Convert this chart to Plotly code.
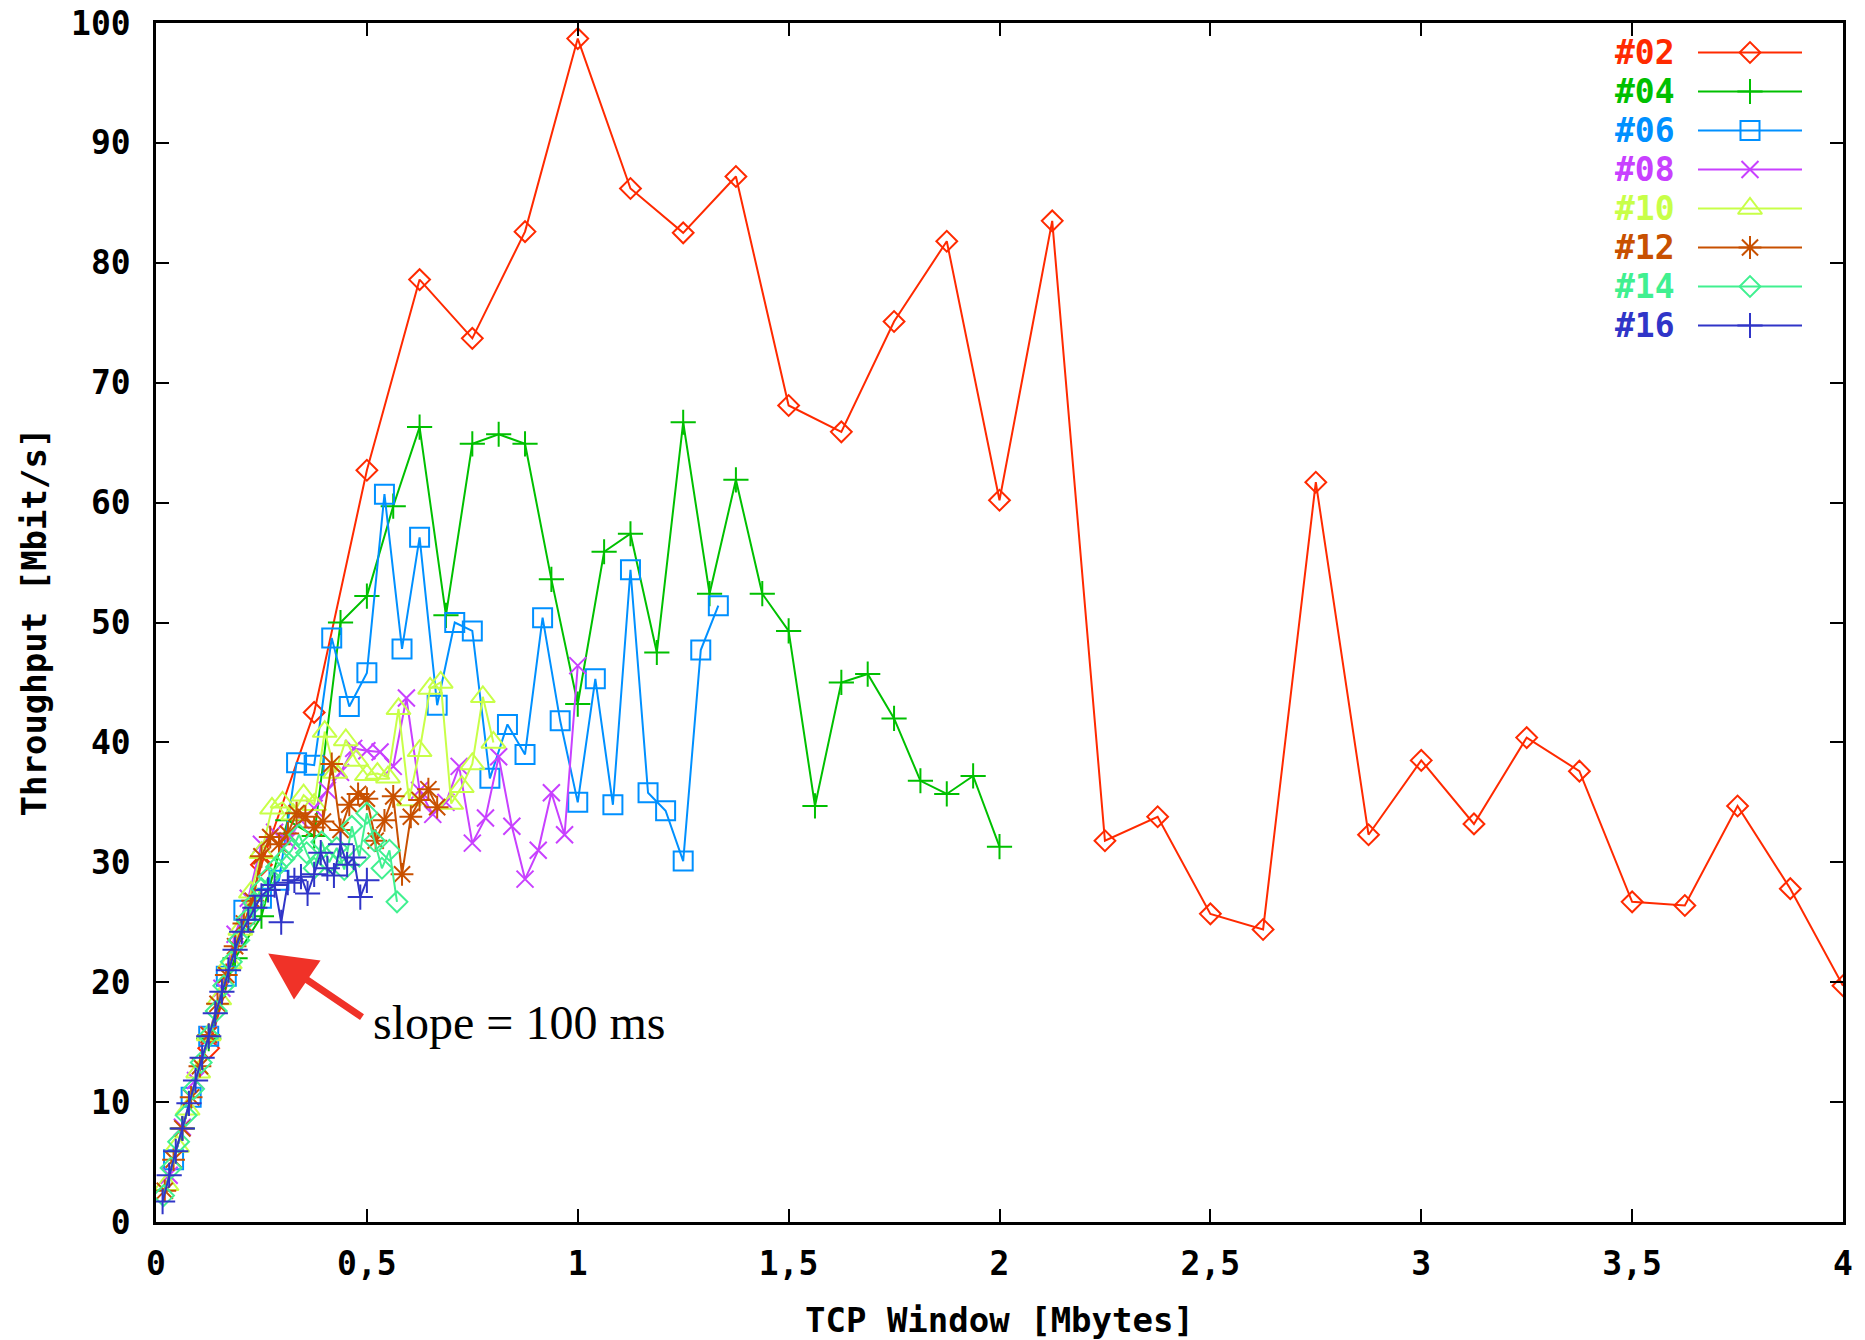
import plotly.graph_objects as go

# ---------------- data ----------------
# total TCP window summed over all parallel streams [MB]; the x value of a point is total / streams
TOTAL_WINDOW_MB = [0.25, 0.5, 0.75, 1.0, 1.25, 1.5, 1.75, 2.0, 2.25, 2.5, 2.75, 3.0,
                   3.25, 3.5, 3.75, 4.0, 4.25, 4.5, 4.75, 5.0, 5.25, 5.5, 5.75, 6.0,
                   6.25, 6.5, 6.75, 7.0, 7.25, 7.5, 7.75, 8.0]

SERIES_NAMES = ["#02", "#04", "#06", "#08", "#10", "#12", "#14", "#16"]
STREAMS = [2, 4, 6, 8, 10, 12, 14, 16]

THR_02 = [14.5, 29.8, 42.5, 62.7, 78.6, 73.7, 82.6, 98.7, 86.2, 82.5, 87.2, 68.1,
          65.9, 75.1, 81.8, 60.2, 83.5, 31.8, 33.8, 25.7, 24.4, 61.7, 32.3, 38.5,
          33.2, 40.4, 37.6, 26.7, 26.4, 34.7, 27.8, 19.7]
THR_04 = [7.8, 15.3, 22.0, 25.5, 33.5, 32.2, 50.0, 52.2, 59.7, 66.3, 50.6, 64.9,
          65.7, 64.9, 53.6, 43.2, 55.9, 57.4, 47.5, 66.7, 52.4, 61.9, 52.4, 49.3,
          34.7, 45.0, 45.7, 42.0, 36.8, 35.7, 37.2, 31.3]
THR_06 = [5.2, 10.4, 15.5, 20.5, 26.0, 27.0, 28.5, 38.3, 38.1, 48.7, 43.0, 45.8,
          60.7, 47.8, 57.1, 43.1, 50.0, 49.3, 37.0, 41.5, 39.0, 50.4, 41.8, 35.0,
          45.3, 34.8, 54.4, 35.8, 34.3, 30.1, 47.7, 51.4]
THR_08 = [3.9, 7.9, 11.8, 15.6, 19.5, 24.0, 27.0, 31.5, 32.5, 31.8, 33.5, 34.5,
          36.0, 37.5, 39.5, 39.3, 39.2, 38.0, 43.7, 36.0, 34.0, 35.0, 38.0, 31.6,
          33.7, 38.8, 33.0, 28.6, 31.0, 35.8, 32.3, 46.4]
THR_10 = [3.1, 6.3, 9.4, 12.5, 15.6, 18.6, 21.6, 24.4, 27.5, 30.8, 34.5, 35.0,
          34.0, 35.6, 34.8, 40.9, 37.5, 40.2, 38.5, 37.3, 37.4, 37.1, 42.8, 35.2,
          39.3, 44.5, 45.0, 34.9, 36.3, 38.2, 43.8, 40.0]
THR_12 = [2.6, 5.2, 7.8, 10.4, 13.0, 15.6, 18.2, 20.6, 23.0, 24.9, 26.8, 30.5,
          32.1, 31.5, 32.4, 34.1, 33.8, 32.9, 33.4, 38.2, 32.7, 34.8, 35.7, 35.3,
          31.8, 33.5, 35.5, 29.0, 33.8, 35.2, 36.1, 34.6]
THR_14 = [2.2, 4.5, 6.7, 8.9, 11.1, 13.3, 15.5, 17.6, 19.7, 21.7, 23.5, 25.2,
          26.6, 27.8, 28.8, 29.6, 30.3, 31.0, 32.3, 30.8, 29.5, 31.7, 30.0, 31.2,
          29.4, 33.0, 30.5, 34.1, 31.8, 29.5, 31.0, 26.7]
THR_16 = [1.7, 3.9, 5.9, 7.8, 9.9, 11.8, 13.7, 15.5, 17.4, 19.2, 21.0, 22.7,
          24.2, 25.2, 26.2, 27.2, 27.7, 28.1, 25.0, 28.3, 28.5, 28.8, 27.4, 29.0,
          30.8, 29.5, 28.9, 31.5, 29.8, 30.4, 27.1, 28.5]
THROUGHPUT = [THR_02, THR_04, THR_06, THR_08, THR_10, THR_12, THR_14, THR_16]

X_TICK_VALS = [0, 0.5, 1, 1.5, 2, 2.5, 3, 3.5, 4]
X_TICK_TEXT = ["0", "0,5", "1", "1,5", "2", "2,5", "3", "3,5", "4"]
Y_TICK_VALS = [0, 10, 20, 30, 40, 50, 60, 70, 80, 90, 100]
Y_TICK_TEXT = ["0", "10", "20", "30", "40", "50", "60", "70", "80", "90", "100"]

X_TITLE = "TCP Window [Mbytes]"
Y_TITLE = "Throughput [Mbit/s]"
NOTE_TEXT = "slope = 100 ms"
NOTE_HEAD = (0.266, 22.4)   # data point the arrow points at
NOTE_TAIL = (0.492, 17.0)
NOTE_POS = (0.510, 16.6)

# ---------------- styles ----------------
COLORS = ["#FF2A00", "#00C000", "#0090FF", "#C840FF", "#C8FF48", "#C85000", "#40F090", "#3035C8"]
SYMBOLS = ["diamond-open", "cross-thin", "square-open", "x-thin", "triangle-up-open",
           "asterisk", "diamond-open", "cross-thin"]
SIZES = [16, 18, 19, 17, 21, 19, 16, 18]

W, H = 1865, 1340
ML, MR, MT, MB = 156, 22, 23, 118
PW, PH = W - ML - MR, H - MT - MB

TICK_FONT = dict(family="DejaVu Sans Mono", size=33, color="black", weight="bold")
TITLE_FONT = dict(family="DejaVu Sans Mono", size=34, color="black", weight="bold")

fig = go.Figure()

for name, n, ys, col, sym, sz in zip(SERIES_NAMES, STREAMS, THROUGHPUT, COLORS, SYMBOLS, SIZES):
    xs = [t / n for t in TOTAL_WINDOW_MB]
    fig.add_trace(go.Scatter(
        x=xs, y=ys, mode="lines+markers", name=name, showlegend=False,
        line=dict(color=col, width=2),
        marker=dict(symbol=sym, size=sz, color=col, line=dict(color=col, width=2)),
    ))

# ---------------- custom gnuplot-like key (text left, sample right) ----------------
KEY_TEXT_RIGHT = 1677
KEY_LINE_X0, KEY_LINE_X1 = 1698, 1802
KEY_ROW0, KEY_ROW_STEP = 52.5, 39.0


def px_to_paper_x(px):
    return (px - ML) / PW


def py_to_paper_y(py):
    return (MT + PH - py) / PH


for i, (name, col, sym, sz) in enumerate(zip(SERIES_NAMES, COLORS, SYMBOLS, SIZES)):
    py = KEY_ROW0 + i * KEY_ROW_STEP
    yy = py_to_paper_y(py)
    x0, x1 = px_to_paper_x(KEY_LINE_X0), px_to_paper_x(KEY_LINE_X1)
    fig.add_trace(go.Scatter(
        x=[x0, x1], y=[yy, yy], mode="lines", xaxis="x2", yaxis="y2", showlegend=False,
        line=dict(color=col, width=2), hoverinfo="skip"))
    fig.add_trace(go.Scatter(
        x=[(x0 + x1) / 2], y=[yy], mode="markers", xaxis="x2", yaxis="y2", showlegend=False,
        marker=dict(symbol=sym, size=sz, color=col, line=dict(color=col, width=2)),
        hoverinfo="skip"))
    fig.add_annotation(
        x=px_to_paper_x(KEY_TEXT_RIGHT), y=yy, xref="paper", yref="paper",
        xanchor="right", yanchor="middle", showarrow=False, text=name,
        font=dict(family="DejaVu Sans Mono", size=33, color=col, weight="bold"))

# ---------------- annotation with arrow ----------------
fig.add_annotation(
    x=NOTE_HEAD[0], y=NOTE_HEAD[1], ax=NOTE_TAIL[0], ay=NOTE_TAIL[1],
    xref="x", yref="y", axref="x", ayref="y", text="",
    showarrow=True, arrowhead=2, arrowsize=1.35, arrowwidth=7, arrowcolor="#F03228")
fig.add_annotation(
    x=NOTE_POS[0], y=NOTE_POS[1], xref="x", yref="y", xanchor="left", yanchor="middle",
    showarrow=False, text=NOTE_TEXT,
    font=dict(family="Liberation Serif", size=48, color="black"))

# axis titles
fig.add_annotation(x=0.5, y=py_to_paper_y(1320), xref="paper", yref="paper",
                   xanchor="center", yanchor="middle", showarrow=False, text=X_TITLE,
                   font=TITLE_FONT)
fig.add_annotation(x=px_to_paper_x(33), y=0.5, xref="paper", yref="paper",
                   xanchor="center", yanchor="middle", showarrow=False, text=Y_TITLE,
                   textangle=-90, font=TITLE_FONT)

axis_common = dict(showline=True, linecolor="black", linewidth=2.5, mirror="ticks",
                   ticks="inside", ticklen=13, tickwidth=2, tickcolor="black",
                   showgrid=False, zeroline=False, tickfont=TICK_FONT, automargin=False)

fig.update_layout(
    width=W, height=H,
    margin=dict(l=ML, r=MR, t=MT, b=MB, pad=0, autoexpand=False),
    paper_bgcolor="white", plot_bgcolor="white",
    showlegend=False,
    xaxis=dict(range=[0, 4], tickmode="array", tickvals=X_TICK_VALS, ticktext=X_TICK_TEXT,
               ticklabelstandoff=11, **axis_common),
    yaxis=dict(range=[0, 100], tickmode="array", tickvals=Y_TICK_VALS, ticktext=Y_TICK_TEXT,
               ticklabelstandoff=16, **axis_common),
    xaxis2=dict(overlaying="x", range=[0, 1], visible=False, fixedrange=True),
    yaxis2=dict(overlaying="y", range=[0, 1], visible=False, fixedrange=True),
)

fig.write_html("out.html", config={"displayModeBar": False},
               post_script="document.body.style.margin='0';document.body.style.overflow='hidden';")
